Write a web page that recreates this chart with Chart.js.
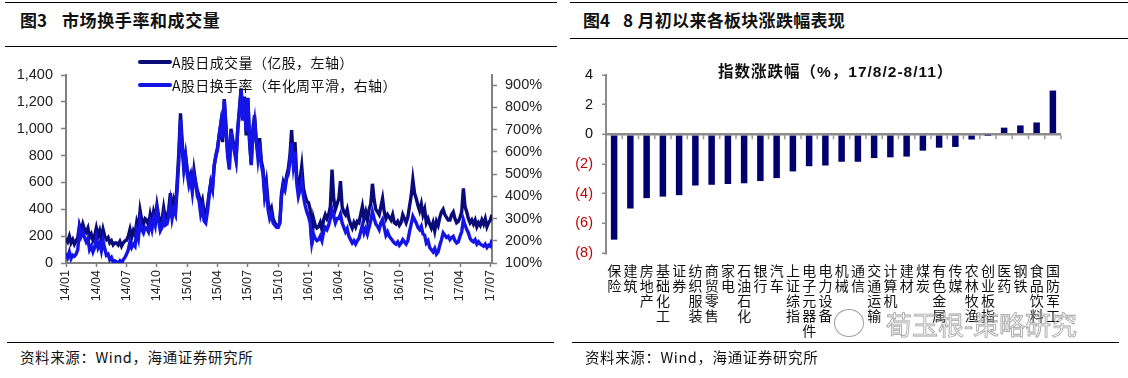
<!DOCTYPE html>
<html><head><meta charset="utf-8">
<script src="https://cdn.jsdelivr.net/npm/chart.js@4.4.1/dist/chart.umd.min.js"></script>
<style>
html,body{margin:0;padding:0;background:#fff;}
body{width:1128px;height:378px;position:relative;overflow:hidden;font-family:"Noto Sans CJK SC",sans-serif;}
.abs{position:absolute;}
.hline{position:absolute;height:1px;background:#000;}
.ttl{position:absolute;font-size:17px;font-weight:700;color:#111;white-space:nowrap;line-height:20px;}
.src{position:absolute;font-size:14.5px;color:#111;white-space:nowrap;line-height:18px;letter-spacing:0.6px;}
.leg{position:absolute;font-size:14px;color:#111;white-space:nowrap;line-height:18px;letter-spacing:0.4px;}
.legline{position:absolute;height:4px;border-radius:2px;width:34px;}
.ctitle{position:absolute;font-family:"Liberation Sans","Noto Sans CJK SC",sans-serif;font-size:15.5px;font-weight:700;color:#111;white-space:nowrap;line-height:18px;letter-spacing:1px;}
.wm{position:absolute;font-size:26px;color:transparent;-webkit-text-stroke:0.8px #a0a0a0;white-space:nowrap;line-height:30px;}
.bubble{position:absolute;border:1px solid #a0a0a0;border-radius:50%;}
</style></head><body>

<div class="hline" style="left:5px;top:2px;width:552px;"></div>
<div class="hline" style="left:5px;top:46px;width:552px;"></div>
<div class="ttl" style="left:20px;top:10px;">图3</div>
<div class="ttl" style="left:62px;top:10px;letter-spacing:0.6px;">市场换手率和成交量</div>

<div class="hline" style="left:570px;top:2px;width:558px;"></div>
<div class="hline" style="left:570px;top:38px;width:558px;"></div>
<div class="ttl" style="left:583px;top:10px;">图4</div>
<div class="ttl" style="left:623px;top:10px;letter-spacing:0.3px;">8 月初以来各板块涨跌幅表现</div>

<div class="abs" style="left:0;top:0;width:560px;height:335px;"><canvas id="c1" width="560" height="335"></canvas></div>
<div class="abs" style="left:565px;top:0;width:563px;height:345px;"><canvas id="c2" width="563" height="345"></canvas></div>

<div class="legline" style="left:138px;top:60px;background:#0A0A78;"></div>
<div class="leg" style="left:172px;top:53px;">A股日成交量（亿股，左轴）</div>
<div class="legline" style="left:138px;top:83px;background:#1414E6;"></div>
<div class="leg" style="left:172px;top:76px;">A股日换手率（年化周平滑，右轴）</div>

<div class="ctitle" style="left:718px;top:63px;">指数涨跌幅（%，17/8/2-8/11）</div>

<div class="bubble" style="left:834px;top:309px;width:28px;height:26px;"></div>
<div class="wm" style="left:886px;top:309px;">荀玉根-策略研究</div>

<div class="hline" style="left:7px;top:342px;width:547px;"></div>
<div class="hline" style="left:572px;top:342px;width:547px;"></div>
<div class="src" style="left:20px;top:348px;">资料来源：Wind，海通证券研究所</div>
<div class="src" style="left:585px;top:348px;">资料来源：Wind，海通证券研究所</div>

<script>
// ---- Figure 3 data: six readings per month, Jan 2014 .. early Jul 2017 ----
const startYear = 14;
const pointsPerMonth = 6;
const volume = [
 185,160,200,150,175,140,
 165,190,280,240,290,250,
 230,260,190,215,170,200,
 260,200,240,180,250,200,
 175,190,150,165,135,150,
 150,135,160,125,150,165,
 170,200,250,190,240,210,
 300,250,390,320,290,330,
 320,280,360,300,380,330,
 430,350,290,320,410,330,
 340,400,520,380,460,400,
 600,820,1115,900,720,800,
 700,620,660,560,690,600,
 540,500,430,470,380,350,
 420,520,600,560,720,800,
 860,950,1040,900,1220,1000,
 820,720,1000,920,860,780,
 1000,1150,1300,1080,1240,950,
 1230,900,740,1000,1100,900,
 820,930,760,700,520,600,
 450,380,410,330,300,280,
 270,300,520,600,560,650,
 700,800,990,760,900,650,
 560,620,720,560,500,460,
 450,400,135,330,280,260,
 270,300,250,320,360,330,
 360,420,695,480,400,440,
 480,610,420,380,360,400,
 330,290,260,300,270,310,
 300,360,420,330,380,320,
 400,440,590,470,400,380,
 360,420,480,380,330,360,
 340,320,360,300,290,310,
 280,300,360,330,300,340,
 420,500,620,520,480,430,
 390,440,360,400,300,330,
 290,260,300,240,310,280,
 340,380,400,360,340,320,
 320,360,380,330,300,310,
 340,380,555,420,380,330,
 300,320,290,320,270,300,
 280,320,290,330,270,300,
 320,360
];
const turnover = [
 145,125,150,120,135,130,
 140,160,255,220,240,215,
 195,210,160,175,150,170,
 210,170,190,155,200,165,
 135,140,115,125,105,110,
 105,100,110,100,115,125,
 140,160,195,170,185,175,
 240,210,290,250,235,260,
 255,240,280,250,300,270,
 340,290,245,260,310,270,
 275,310,370,300,340,320,
 430,560,745,620,520,580,
 500,450,480,420,500,460,
 400,380,320,350,290,280,
 330,400,460,430,540,580,
 610,680,730,660,830,720,
 580,520,690,640,600,560,
 700,780,880,740,840,690,
 840,660,540,690,740,650,
 570,640,540,500,400,440,
 340,300,320,280,270,260,
 260,280,400,450,430,480,
 500,560,640,540,600,460,
 400,430,470,400,360,330,
 310,280,190,230,210,200,
 205,220,200,240,260,250,
 270,300,340,310,280,300,
 300,320,280,260,240,255,
 220,205,190,200,185,200,
 210,240,270,235,255,230,
 260,290,330,300,275,265,
 250,280,295,260,225,240,
 220,210,200,190,185,195,
 180,190,205,195,185,200,
 240,275,310,295,280,260,
 250,265,230,225,190,200,
 170,160,150,165,140,150,
 180,205,235,225,215,220,
 205,215,220,200,190,195,
 220,240,295,270,250,235,
 210,200,195,205,185,195,
 185,180,175,185,170,180,
 175,205
];
const leftTicks = {min:0, max:1400, step:200};
const rightTicks = {min:100, max:945, step:100, last:900};
const xLabelStepMonths = 3;

// ---- Figure 4 data ----
const sectors = ['保险','建筑','房地产','基础化工','证券','纺织服装','商贸零售','家电','石油石化','银行','汽车','上证综指','电子元器件','电力设备','机械','通信','交通运输','计算机','建材','煤炭','有色金属','传媒','农林牧渔','创业板指','医药','钢铁','食品饮料','国防军工'];
const changes = [-7.1,-5.0,-4.3,-4.2,-4.1,-3.45,-3.4,-3.35,-3.3,-3.15,-2.95,-2.5,-2.15,-2.1,-1.85,-1.85,-1.6,-1.55,-1.5,-1.1,-0.9,-0.85,-0.35,-0.03,0.45,0.6,0.8,2.95];

function monthLabel(m){
  const y = startYear + Math.floor(m/12);
  const mm = (m % 12) + 1;
  return y + '/' + String(mm).padStart(2,'0');
}
const gray = '#808080';
const latin = 'Liberation Sans';
const xMax = (volume.length - 1) / pointsPerMonth;

new Chart(document.getElementById('c1'), {
  type:'line',
  data:{datasets:[
    {label:'A股日换手率（年化周平滑，右轴）', data: turnover.map((v,i)=>({x:i/pointsPerMonth, y:v})), yAxisID:'yR',
     borderColor:'#1414E6', borderWidth:3.4, pointRadius:0, tension:0, order:0},
    {label:'A股日成交量（亿股，左轴）', data: volume.map((v,i)=>({x:i/pointsPerMonth, y:v})), yAxisID:'yL',
     borderColor:'#0A0A78', borderWidth:3.4, pointRadius:0, tension:0, order:1}
  ]},
  options:{
    responsive:false, animation:false,
    layout:{padding:{top:75,left:0,right:0,bottom:0}},
    plugins:{legend:{display:false}, tooltip:{enabled:false}},
    scales:{
      x:{type:'linear', min:0, max:xMax,
        afterBuildTicks:s=>{ const t=[]; for(let m=0; m<=xMax; m+=xLabelStepMonths) t.push({value:m}); s.ticks=t; },
        ticks:{autoSkip:false, maxRotation:90, minRotation:90, padding:3,
          font:{family:latin, size:12.5}, color:'#222', callback:v=>monthLabel(v)},
        grid:{drawOnChartArea:false, drawTicks:true, tickLength:4, tickColor:gray, tickWidth:1.5},
        border:{color:gray, width:2},
        afterFit:s=>{ s.height = 72; }
      },
      yL:{position:'left', min:leftTicks.min, max:leftTicks.max,
        ticks:{stepSize:leftTicks.step, padding:8, font:{family:latin, size:14.5}, color:'#222',
          callback:v=>v.toLocaleString('en-US')},
        grid:{drawOnChartArea:false, drawTicks:true, tickLength:5, tickColor:gray, tickWidth:1.5},
        border:{color:gray, width:2},
        afterFit:s=>{ s.width = 66; }
      },
      yR:{position:'right', min:rightTicks.min, max:rightTicks.max,
        afterBuildTicks:s=>{ const t=[]; for(let v=rightTicks.min; v<=rightTicks.last; v+=rightTicks.step) t.push({value:v}); s.ticks=t; },
        ticks:{padding:8, font:{family:latin, size:14.5}, color:'#222', callback:v=>v + '%'},
        grid:{drawOnChartArea:false, drawTicks:true, tickLength:5, tickColor:gray, tickWidth:1.5},
        border:{color:gray, width:2},
        afterFit:s=>{ s.width = 68; }
      }
    }
  }
});

const zeroTicks = {
  id:'zeroTicks',
  afterDatasetsDraw(chart){
    const xs = chart.scales.x, ys = chart.scales.y, ctx = chart.ctx;
    const y0 = ys.getPixelForValue(0);
    ctx.save();
    ctx.strokeStyle = '#9a9a8a'; ctx.lineWidth = 1.5;
    for (let i = 0; i <= sectors.length; i++) {
      const x = xs.getPixelForValue(i - 0.5);
      ctx.beginPath(); ctx.moveTo(x, y0 + 1); ctx.lineTo(x, y0 + 5); ctx.stroke();
    }
    ctx.restore();
  }
};

new Chart(document.getElementById('c2'), {
  type:'bar',
  data:{labels: sectors.map(s=>s.split('')), datasets:[{data:changes, backgroundColor:'#00006E', barPercentage:0.4, categoryPercentage:1}]},
  options:{
    responsive:false, animation:false,
    layout:{padding:{top:75,left:0,right:67,bottom:0}},
    plugins:{legend:{display:false}, tooltip:{enabled:false}},
    scales:{
      x:{ticks:{autoSkip:false, maxRotation:0, minRotation:0, padding:2,
          font:{family:'Noto Sans CJK SC', size:14, lineHeight:1.07}, color:'#111'},
        grid:{display:false}, border:{display:false},
        afterFit:s=>{ s.height = 92; }
      },
      y:{min:-8, max:4,
        ticks:{stepSize:2, padding:9, font:{family:latin, size:14.5},
          color:ctx=>ctx.tick && ctx.tick.value < 0 ? '#C00000' : '#111',
          callback:v=> v < 0 ? '(' + (-v) + ')' : String(v)},
        grid:{color:ctx=>ctx.tick && ctx.tick.value === 0 ? '#8C8C8C' : 'rgba(0,0,0,0)', lineWidth:2.5,
          drawTicks:true, tickLength:4, tickColor:'#8C8C8C', tickWidth:1.5},
        border:{color:'#8C8C8C', width:2},
        afterFit:s=>{ s.width = 41; }
      }
    }
  },
  plugins:[zeroTicks]
});
</script>
</body></html>
